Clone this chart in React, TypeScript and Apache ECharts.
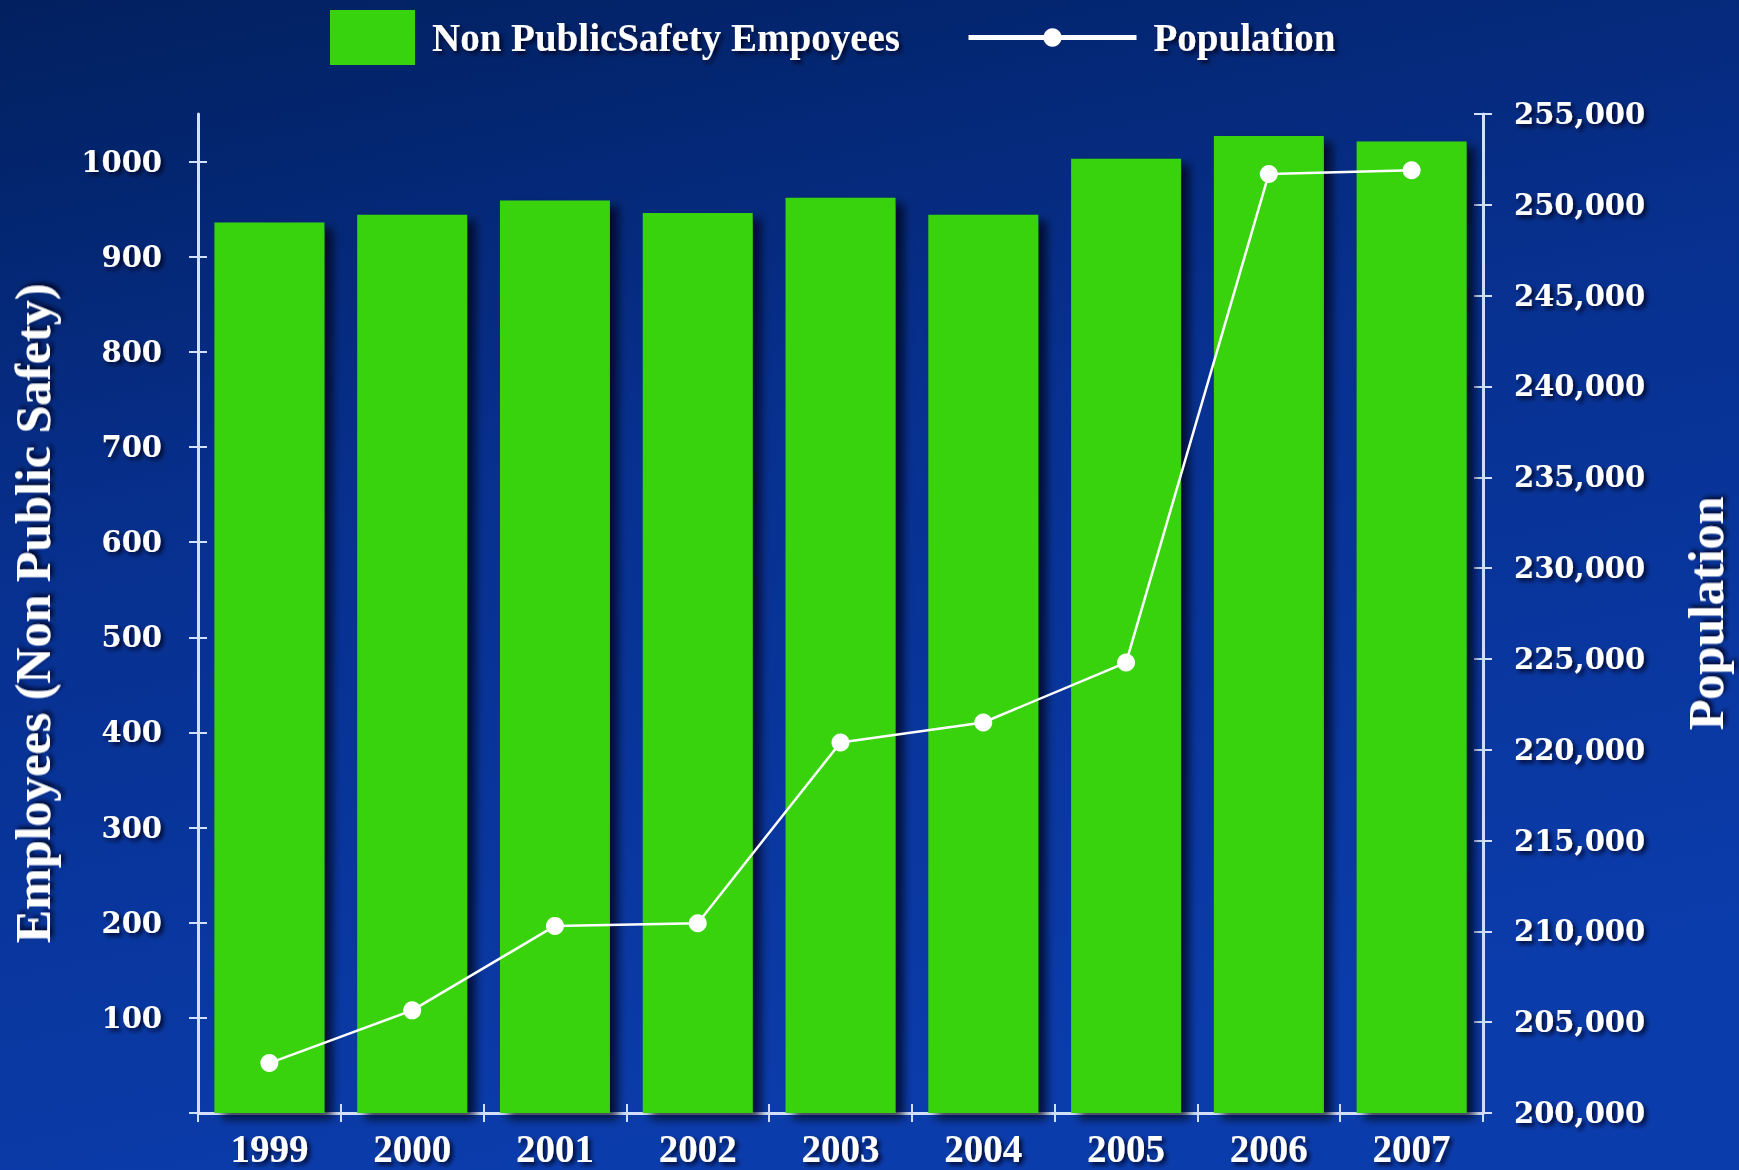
import React, { useEffect, useRef } from "react";
import * as echarts from "echarts";

const years = ["1999", "2000", "2001", "2002", "2003", "2004", "2005", "2006", "2007"];
const employees = [936, 944, 959, 946, 962, 944, 1003, 1027, 1021];
const population = [202750, 205650, 210300, 210450, 220400, 221500, 224800, 251700, 251900];
const leftTicks = [0, 100, 200, 300, 400, 500, 600, 700, 800, 900, 1000];
const leftLabels = [100, 200, 300, 400, 500, 600, 700, 800, 900, 1000];

const SERIES_BAR = "Non PublicSafety Empoyees";
const SERIES_LINE = "Population";

const shadow = {
  textShadowColor: "rgba(0,0,20,0.8)",
  textShadowBlur: 4,
  textShadowOffsetX: 3,
  textShadowOffsetY: 3,
};

export default function App() {
  const ref = useRef<HTMLDivElement>(null);
  useEffect(() => {
    if (!ref.current) return;
    const chart = echarts.init(ref.current, null, { renderer: "svg" });
    const axisColor = "#d3e0ff";
    const option: any = {
      animation: false,
      backgroundColor: {
        type: "linear",
        x: 0,
        y: 0,
        x2: 0.3,
        y2: 1,
        colorStops: [
          { offset: 0, color: "#02205f" },
          { offset: 0.45, color: "#07308f" },
          { offset: 1, color: "#0b3cab" },
        ],
      },
      legend: [
        {
          data: [{ name: SERIES_BAR, icon: "rect" }],
          left: 330,
          top: 10,
          padding: 0,
          itemWidth: 85,
          itemHeight: 55,
          textStyle: {
            color: "#ffffff",
            fontFamily: "Liberation Serif",
            fontWeight: "bold",
            fontSize: 39,
            padding: [0, 0, 0, 12],
            ...shadow,
          },
        },
        {
          data: [SERIES_LINE],
          left: 966,
          top: 18,
          padding: 0,
          itemWidth: 168,
          itemHeight: 23,
          lineStyle: { width: 5, color: "#ffffff" },
          textStyle: {
            color: "#ffffff",
            fontFamily: "Liberation Serif",
            fontWeight: "bold",
            fontSize: 39,
            padding: [0, 0, 0, 12],
            ...shadow,
          },
        },
      ],
      grid: { left: 194, right: 250, top: 114, bottom: 57, containLabel: false },
      xAxis: [
        {
          type: "category",
          data: years,
          position: "bottom",
          axisLine: { show: true, lineStyle: { color: axisColor, width: 3 } },
          axisTick: { show: true, inside: false, length: 9, lineStyle: { color: axisColor, width: 2 } },
          axisLabel: {
            color: "#ffffff",
            fontFamily: "Liberation Serif",
            fontWeight: "bold",
            fontSize: 39,
            margin: 16,
            ...shadow,
          },
          splitLine: { show: false },
        },
        {
          type: "category",
          data: years,
          position: "bottom",
          axisLine: { show: false },
          axisTick: { show: true, inside: true, length: 9, lineStyle: { color: axisColor, width: 2 } },
          axisLabel: { show: false },
          splitLine: { show: false },
        },
      ],
      yAxis: [
        {
          type: "value",
          position: "left",
          min: 0,
          max: 1050,
          name: "Employees (Non Public Safety)",
          nameLocation: "middle",
          nameRotate: 90,
          nameGap: 140,
          nameTextStyle: {
            color: "#ffffff",
            fontFamily: "Liberation Serif",
            fontWeight: "bold",
            fontSize: 50,
            ...shadow,
          },
          axisLine: { show: true, lineStyle: { color: axisColor, width: 3 } },
          axisTick: {
            show: true,
            length: 9,
            customValues: leftTicks,
            lineStyle: { color: axisColor, width: 2 },
          },
          axisLabel: {
            customValues: leftLabels,
            formatter: (v: number) => String(v),
            color: "#ffffff",
            fontFamily: "DejaVu Serif",
            fontWeight: "bold",
            fontSize: 29,
            margin: 36,
            ...shadow,
          },
          splitLine: { show: false },
        },
        {
          type: "value",
          position: "right",
          min: 200000,
          max: 255000,
          interval: 5000,
          name: "Population",
          nameLocation: "middle",
          nameRotate: 90,
          nameGap: 198,
          nameTextStyle: {
            color: "#ffffff",
            fontFamily: "Liberation Serif",
            fontWeight: "bold",
            fontSize: 50,
            ...shadow,
          },
          axisLine: { show: true, lineStyle: { color: axisColor, width: 3 } },
          axisTick: { show: true, length: 9, lineStyle: { color: axisColor, width: 2 } },
          axisLabel: {
            color: "#ffffff",
            fontFamily: "DejaVu Serif",
            fontWeight: "bold",
            fontSize: 29,
            margin: 31,
            formatter: (v: number) => v.toLocaleString("en-US"),
            ...shadow,
          },
          splitLine: { show: false },
        },
        {
          type: "value",
          position: "left",
          min: 0,
          max: 1050,
          axisLine: { show: false },
          axisTick: {
            show: true,
            inside: true,
            length: 9,
            customValues: leftTicks,
            lineStyle: { color: axisColor, width: 2 },
          },
          axisLabel: { show: false },
          splitLine: { show: false },
        },
        {
          type: "value",
          position: "right",
          min: 200000,
          max: 255000,
          interval: 5000,
          axisLine: { show: false },
          axisTick: { show: true, inside: true, length: 9, lineStyle: { color: axisColor, width: 2 } },
          axisLabel: { show: false },
          splitLine: { show: false },
        },
      ],
      series: [
        {
          name: SERIES_BAR,
          type: "bar",
          data: employees,
          xAxisIndex: 0,
          yAxisIndex: 0,
          barCategoryGap: "23%",
          itemStyle: {
            color: "#37d30e",
            shadowColor: "rgba(0,0,25,0.75)",
            shadowBlur: 10,
            shadowOffsetX: 8,
            shadowOffsetY: 6,
          },
          z: 2,
        },
        {
          name: SERIES_LINE,
          type: "line",
          data: population,
          xAxisIndex: 0,
          yAxisIndex: 1,
          symbol: "circle",
          symbolSize: 18,
          lineStyle: { color: "#ffffff", width: 2.5 },
          itemStyle: { color: "#ffffff" },
          z: 5,
        },
      ],
    };
    chart.setOption(option);
    return () => chart.dispose();
  }, []);
  return (
    <div
      ref={ref}
      style={{ position: "fixed", left: 0, top: 0, width: 1739, height: 1170 }}
    />
  );
}
